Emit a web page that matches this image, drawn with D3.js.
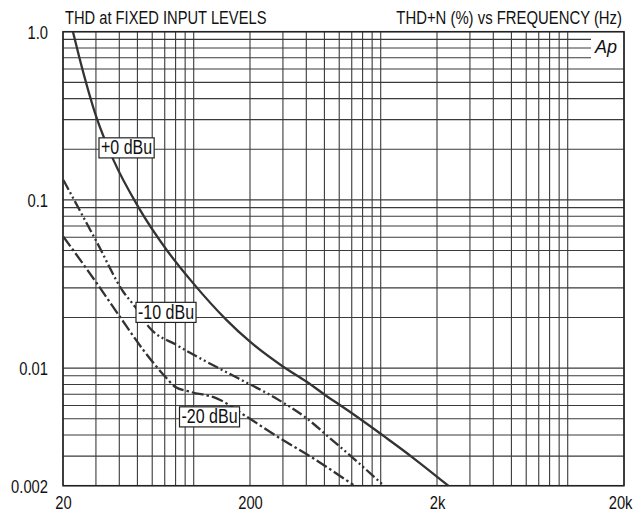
<!DOCTYPE html>
<html>
<head>
<meta charset="utf-8">
<script src="https://cdn.jsdelivr.net/npm/d3@7"></script>
<style>
  body { margin: 0; background: #fff; }
  svg text { font-family: "Liberation Sans", Arial, sans-serif; fill: #111; }
</style>
</head>
<body>
<svg id="chart" width="635" height="516"></svg>
<script>
// frequency (Hz) and THD+N (%)
const freq0 = [22.6, 24.4, 30.3, 37.2, 50.5, 71.7, 99.5, 150, 200, 301, 402, 536, 605, 991, 1077, 1465, 2297];
const thd0  = [1.0, 0.71, 0.306, 0.173, 0.091, 0.0504, 0.0319, 0.0193, 0.01435, 0.0102, 0.0083, 0.0066, 0.00604, 0.0041, 0.00383, 0.00297, 0.002];

const freq10 = [20.1, 30.3, 42.0, 48.5, 58.4, 81.1, 112.6, 173, 266, 402, 536, 714, 1040];
const thd10  = [0.1313, 0.0562, 0.02845, 0.0232, 0.01724, 0.01372, 0.01117, 0.0087, 0.00676, 0.00503, 0.00383, 0.00291, 0.002];

const freq20 = [20.1, 30.3, 40.3, 53.8, 71.7, 79.3, 95.5, 132.7, 192, 289, 436, 714];
const thd20  = [0.0604, 0.032, 0.0202, 0.0128, 0.0087, 0.00775, 0.00724, 0.00661, 0.00514, 0.00383, 0.00291, 0.00202];

const curveNames = ["+0 dBu", "-10 dBu", "-20 dBu"];

const xGridValues = [20, 30, 40, 50, 60, 70, 80, 90, 100, 200, 300, 400, 500, 600, 700, 800, 900,
                     1000, 2000, 3000, 4000, 5000, 6000, 7000, 8000, 9000, 10000, 20000];
const yGridValues = [0.002, 0.003, 0.004, 0.005, 0.006, 0.007, 0.008, 0.009, 0.01, 0.02, 0.03, 0.04, 0.05,
                     0.06, 0.07, 0.08, 0.09, 0.1, 0.2, 0.3, 0.4, 0.5, 0.6, 0.7, 0.8, 0.9, 1.0];
const xTickValues = [20, 200, 2000, 20000];
const xTickLabels = ["20", "200", "2k", "20k"];
const yTickValues = [1.0, 0.1, 0.01, 0.002];
const yTickLabels = ["1.0", "0.1", "0.01", "0.002"];

const svg = d3.select("#chart");
const L = 63, R = 624, T = 31.7, B = 485.7;
const K = 0.82; // horizontal squeeze to mimic a condensed face

const x = d3.scaleLog().domain([20, 20000]).range([L, R]);
const y = d3.scaleLog().domain([0.002, 1]).range([B, T]);

// === grid ===
const grid = svg.append("g").attr("stroke", "#3a3a3a").attr("stroke-width", 1.1);
grid.selectAll("line.v").data(xGridValues).enter().append("line")
  .attr("x1", d => x(d)).attr("x2", d => x(d)).attr("y1", T).attr("y2", B);
// the 0.7 .. 0.9 lines stop short of the logo
grid.selectAll("line.h").data(yGridValues).enter().append("line")
  .attr("x1", L).attr("y1", d => y(d)).attr("y2", d => y(d))
  .attr("x2", d => (d >= 0.7 && d < 1) ? 591 : R);

svg.append("rect").attr("x", L).attr("y", T).attr("width", R - L).attr("height", B - T)
  .attr("fill", "none").attr("stroke", "#222").attr("stroke-width", 1.5);

// === axis labels (d3 axes, no domain/ticks) ===
const xAxis = svg.append("g").attr("transform", `translate(0,${B})`)
  .call(d3.axisBottom(x).tickValues(xTickValues).tickSize(0).tickPadding(10)
    .tickFormat((d, i) => xTickLabels[i]));
const yAxis = svg.append("g").attr("transform", `translate(${L},0)`)
  .call(d3.axisLeft(y).tickValues(yTickValues).tickSize(0).tickPadding(15)
    .tickFormat((d, i) => yTickLabels[i]));
[xAxis, yAxis].forEach(a => {
  a.select(".domain").remove();
  a.selectAll("text").style("font-size", "18px").attr("fill", "#111")
    .style("font-family", '"Liberation Sans", Arial, sans-serif')
    .attr("transform", `scale(${K},1)`);
});
yAxis.selectAll("text").attr("x", -15 / K).attr("dy", "0.38em");
xAxis.selectAll("text").attr("dy", "13px");
// keep the last label inside the page
xAxis.selectAll("text").filter(d => d === 20000).attr("text-anchor", "end").attr("x", 8 / K);

// === titles ===
svg.append("text").attr("transform", `translate(65,24) scale(0.84,1)`)
  .style("font-size", "17.5px").text("THD at FIXED INPUT LEVELS");
svg.append("text").attr("transform", `translate(622,24) scale(0.85,1)`).attr("text-anchor", "end")
  .style("font-size", "17.5px").text("THD+N (%) vs FREQUENCY (Hz)");
svg.append("text").attr("x", 595).attr("y", 53).style("font-size", "18px").style("font-style", "italic")
  .style("font-weight", "300").attr("fill", "#666").text("Ap");

// === curves ===
const line = d3.line().x(d => x(d[0])).y(d => y(d[1])).curve(d3.curveMonotoneX);
const series = [
  { pts: d3.zip(freq0, thd0), dash: null },
  { pts: d3.zip(freq10, thd10), dash: "11,3,2,3,2,3" },
  { pts: d3.zip(freq20, thd20), dash: "12,3,2.5,3" }
];
series.forEach(s => {
  svg.append("path").datum(s.pts).attr("d", line)
    .attr("fill", "none").attr("stroke", "#333").attr("stroke-width", 2.3)
    .attr("stroke-dasharray", s.dash);
});

// === curve labels ===
const labelPos = [[101, 154], [138, 318.5], [181.5, 423]];
curveNames.forEach((name, i) => {
  const g = svg.append("g").attr("transform", `translate(${labelPos[i][0]},${labelPos[i][1]})`);
  const t = g.append("text").attr("transform", "scale(0.8,1)").style("font-size", "20px").text(name);
  const bb = t.node().getBBox();
  g.insert("rect", "text").attr("x", bb.x * 0.8 - 2).attr("y", bb.y + 1.5)
    .attr("width", bb.width * 0.8 + 4).attr("height", bb.height - 2)
    .attr("fill", "#fff").attr("stroke", "#222").attr("stroke-width", 1.2);
});
</script>
</body>
</html>
